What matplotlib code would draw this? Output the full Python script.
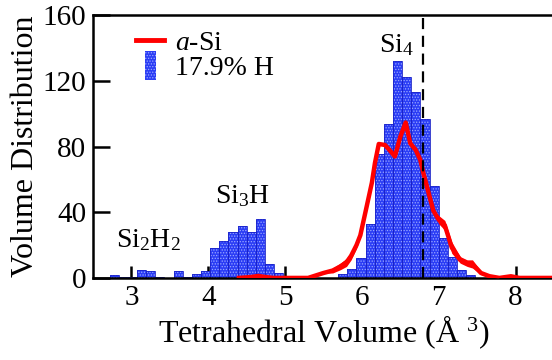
import matplotlib
matplotlib.use("Agg")
import matplotlib.pyplot as plt
from matplotlib.lines import Line2D
from matplotlib.patches import Patch, Rectangle
from matplotlib.legend_handler import HandlerPatch

plt.rcParams['font.family'] = ['Liberation Serif', 'DejaVu Serif']
plt.rcParams['mathtext.fontset'] = 'custom'
plt.rcParams['mathtext.rm'] = 'Liberation Serif'
plt.rcParams['mathtext.it'] = 'Liberation Serif:italic'
plt.rcParams['hatch.linewidth'] = 0.6

# histogram of 17.9% H sample (bin width 0.119, left edges)
bin_width = 0.119
bin_left = [2.716, 2.835, 2.954, 3.073, 3.192, 3.311, 3.430, 3.549, 3.668, 3.787,
            3.906, 4.025, 4.144, 4.263, 4.382, 4.501, 4.620, 4.739, 4.858,
            5.691, 5.810, 5.929, 6.048, 6.167, 6.286, 6.405, 6.524, 6.643,
            6.762, 6.881, 7.000, 7.119, 7.238, 7.357]
h_counts = [1.6, 0.6, 0.6, 5.0, 4.0, 0.6, 0.0, 4.0, 0.6, 2.6,
            4.0, 18.5, 22.5, 27.7, 31.6, 27.7, 35.6, 8.4, 2.7,
            2.5, 5.5, 12.0, 33.0, 75.5, 94.0, 132.0, 122.7, 113.0,
            97.0, 56.0, 24.5, 12.8, 4.7, 1.6]

# a-Si curve (upper / lower edge of the red band)
asi_x = [4.40, 4.55, 4.65, 4.75, 4.85, 5.00, 5.30, 5.40, 5.50, 5.62, 5.72, 5.80,
         5.86, 5.93, 5.98, 6.06, 6.13, 6.17, 6.22, 6.30, 6.34, 6.43, 6.50, 6.57,
         6.63, 6.70, 6.76, 6.80, 6.87, 6.93, 7.00, 7.08, 7.17, 7.28, 7.37, 7.44,
         7.55, 7.66, 7.79, 7.94, 8.05, 8.45]
asi_hi = [0, 0.5, 1.2, 0.5, 0, 0, 0, 1.5, 3.0, 6.0, 9.0, 12.0,
          16.0, 22.0, 27.0, 43.0, 58.0, 70.0, 81.6, 81.0, 79.0, 74.0, 86.0, 94.7,
          82.0, 78.0, 72.0, 64.0, 51.5, 41.0, 38.0, 35.0, 22.0, 13.0, 11.0, 11.0,
          4.0, 1.6, 0, 1.0, 0, 0]
asi_lo = [0, 0.5, 1.2, 0.5, 0, 0, 0, 1.5, 3.0, 3.0, 5.0, 7.0,
          11.0, 18.0, 25.0, 43.0, 58.0, 70.0, 81.6, 81.0, 79.0, 74.0, 86.0, 94.7,
          82.0, 78.0, 72.0, 64.0, 51.5, 41.0, 33.0, 29.0, 15.0, 9.0, 7.0, 6.0,
          2.0, 0.5, 0, 1.0, 0, 0]


def narrow_bar(legend, orig_handle, xdescent, ydescent, width, height, fontsize):
    # thin upright box like a single histogram bar
    w = width * 0.38
    h = height * 1.5
    return Rectangle((width / 2 - w / 2 - xdescent, -ydescent - (h - height) / 2), w, h)


fig = plt.figure(figsize=(5.52, 3.6), dpi=100)
ax = fig.add_axes([0.1685, 0.228, 0.835, 0.7295])

blue = '#2a3cf5'
ax.bar(bin_left, h_counts, width=bin_width, align='edge', color=blue,
       edgecolor='#9aa8ff', hatch='......', linewidth=0, zorder=2)
ax.bar(bin_left, h_counts, width=bin_width, align='edge', fill=False,
       edgecolor='#1a22c8', linewidth=0.6, zorder=2)

ax.fill_between(asi_x, asi_lo, asi_hi, color='red', linewidth=0, zorder=3)
asi_mid = [(a + b) / 2 for a, b in zip(asi_hi, asi_lo)]
ax.plot(asi_x, asi_mid, color='red', lw=3.2, zorder=3)

ax.axvline(6.8, color='black', ls=(0, (5, 3)), lw=1.6, zorder=4)

ax.set_xlim(2.5, 8.5)
ax.set_ylim(0, 160)
ax.set_xticks([3, 4, 5, 6, 7, 8])
ax.set_yticks([0, 40, 80, 120, 160])
ax.tick_params(direction='in', labelsize=21, width=1.8)
ax.tick_params(axis='x', length=9, pad=5)
ax.tick_params(axis='y', length=12, pad=5)
for s in ax.spines.values():
    s.set_linewidth(1.8)

ax.set_xlabel('Tetrahedral Volume (Å $^{3}$)', fontsize=23, labelpad=2)
ax.set_ylabel('Volume Distribution', fontsize=23, labelpad=2)

ax.text(3.22, 15, 'Si$_2$H$_2$', fontsize=20, ha='center', va='bottom')
ax.text(4.45, 42, 'Si$_3$H', fontsize=20, ha='center', va='bottom')
ax.text(6.45, 134, 'Si$_4$', fontsize=20, ha='center', va='bottom')

handles = [Line2D([], [], color='red', lw=3.5),
           Patch(facecolor=blue, edgecolor='#9aa8ff', hatch='......', linewidth=0)]
ax.legend(handles, ['$a$-Si', '17.9% H'], loc='upper left', frameon=False,
          fontsize=20, handlelength=1.0, handletextpad=0.4, labelspacing=0.0,
          borderaxespad=0.0, bbox_to_anchor=(0.07, 0.985),
          handler_map={Patch: HandlerPatch(patch_func=narrow_bar)})

fig.savefig('out.png', dpi=100)
